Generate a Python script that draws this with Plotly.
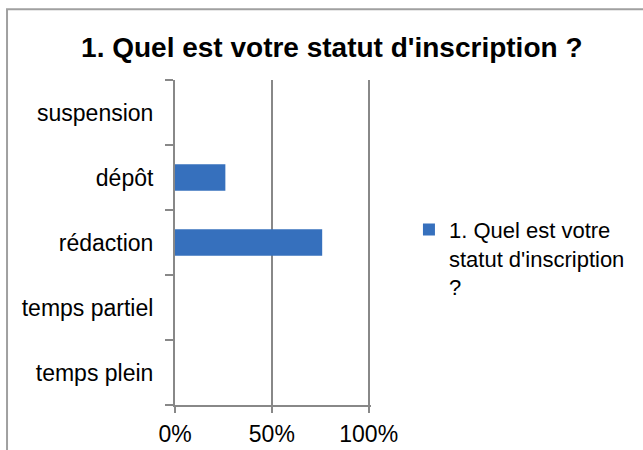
import plotly.graph_objects as go

categories = ["temps plein", "temps partiel", "rédaction", "dépôt", "suspension"]
values = [0, 0, 0.76, 0.26, 0]
series_name = "1. Quel est votre<br>statut d'inscription<br>?"
title_text = "<b>1. Quel est votre statut d'inscription ?</b>"
x_ticks = [0, 0.5, 1]

font_family = "Liberation Sans, Arial, sans-serif"
grey = "#888888"

fig = go.Figure()
fig.add_trace(go.Bar(
    y=categories, x=values, orientation="h",
    name=series_name,
    marker=dict(color="#3670bd", line=dict(width=0)),
    showlegend=True,
))

# range slightly past 100% so plotly keeps the last gridline
fig.update_layout(
    width=643, height=450,
    margin=dict(l=175, r=272, t=80, b=45, autoexpand=False),
    paper_bgcolor="white", plot_bgcolor="white",
    font=dict(family=font_family, size=23, color="black"),
    title=dict(text=title_text, x=0.516, xref="container", xanchor="center",
               y=0.896, yref="container", yanchor="middle",
               font=dict(size=28, color="black")),
    bargap=0.59,
    showlegend=True,
    legend=dict(x=0.636, xref="container", xanchor="left",
                y=0.536, yref="container", yanchor="top", valign="top",
                font=dict(size=22), bgcolor="rgba(0,0,0,0)", itemwidth=30),
    xaxis=dict(range=[0, 1.012], tickvals=x_ticks, tickformat=".0%",
               showgrid=True, gridcolor=grey, gridwidth=1.5,
               showline=True, linecolor=grey, linewidth=2,
               ticks="outside", ticklen=6, tickcolor=grey, tickwidth=1.5,
               ticklabelstandoff=1, automargin=False,
               zeroline=False, fixedrange=True),
    yaxis=dict(categoryorder="array", categoryarray=categories,
               showline=True, linecolor=grey, linewidth=2,
               ticks="outside", ticklen=8, tickcolor=grey, tickwidth=1.5,
               tickson="boundaries", ticklabelstandoff=15, automargin=False,
               showgrid=False, zeroline=False, fixedrange=True),
    shapes=[dict(type="rect", xref="paper", yref="paper",
                 x0=-0.857, x1=2.5, y0=-1.0, y1=1.218,
                 line=dict(color="#a0a0a0", width=2), fillcolor="rgba(0,0,0,0)")],
)

fig.write_html("out.html", config={"displayModeBar": False},
               post_script="document.body.style.margin='0';")
